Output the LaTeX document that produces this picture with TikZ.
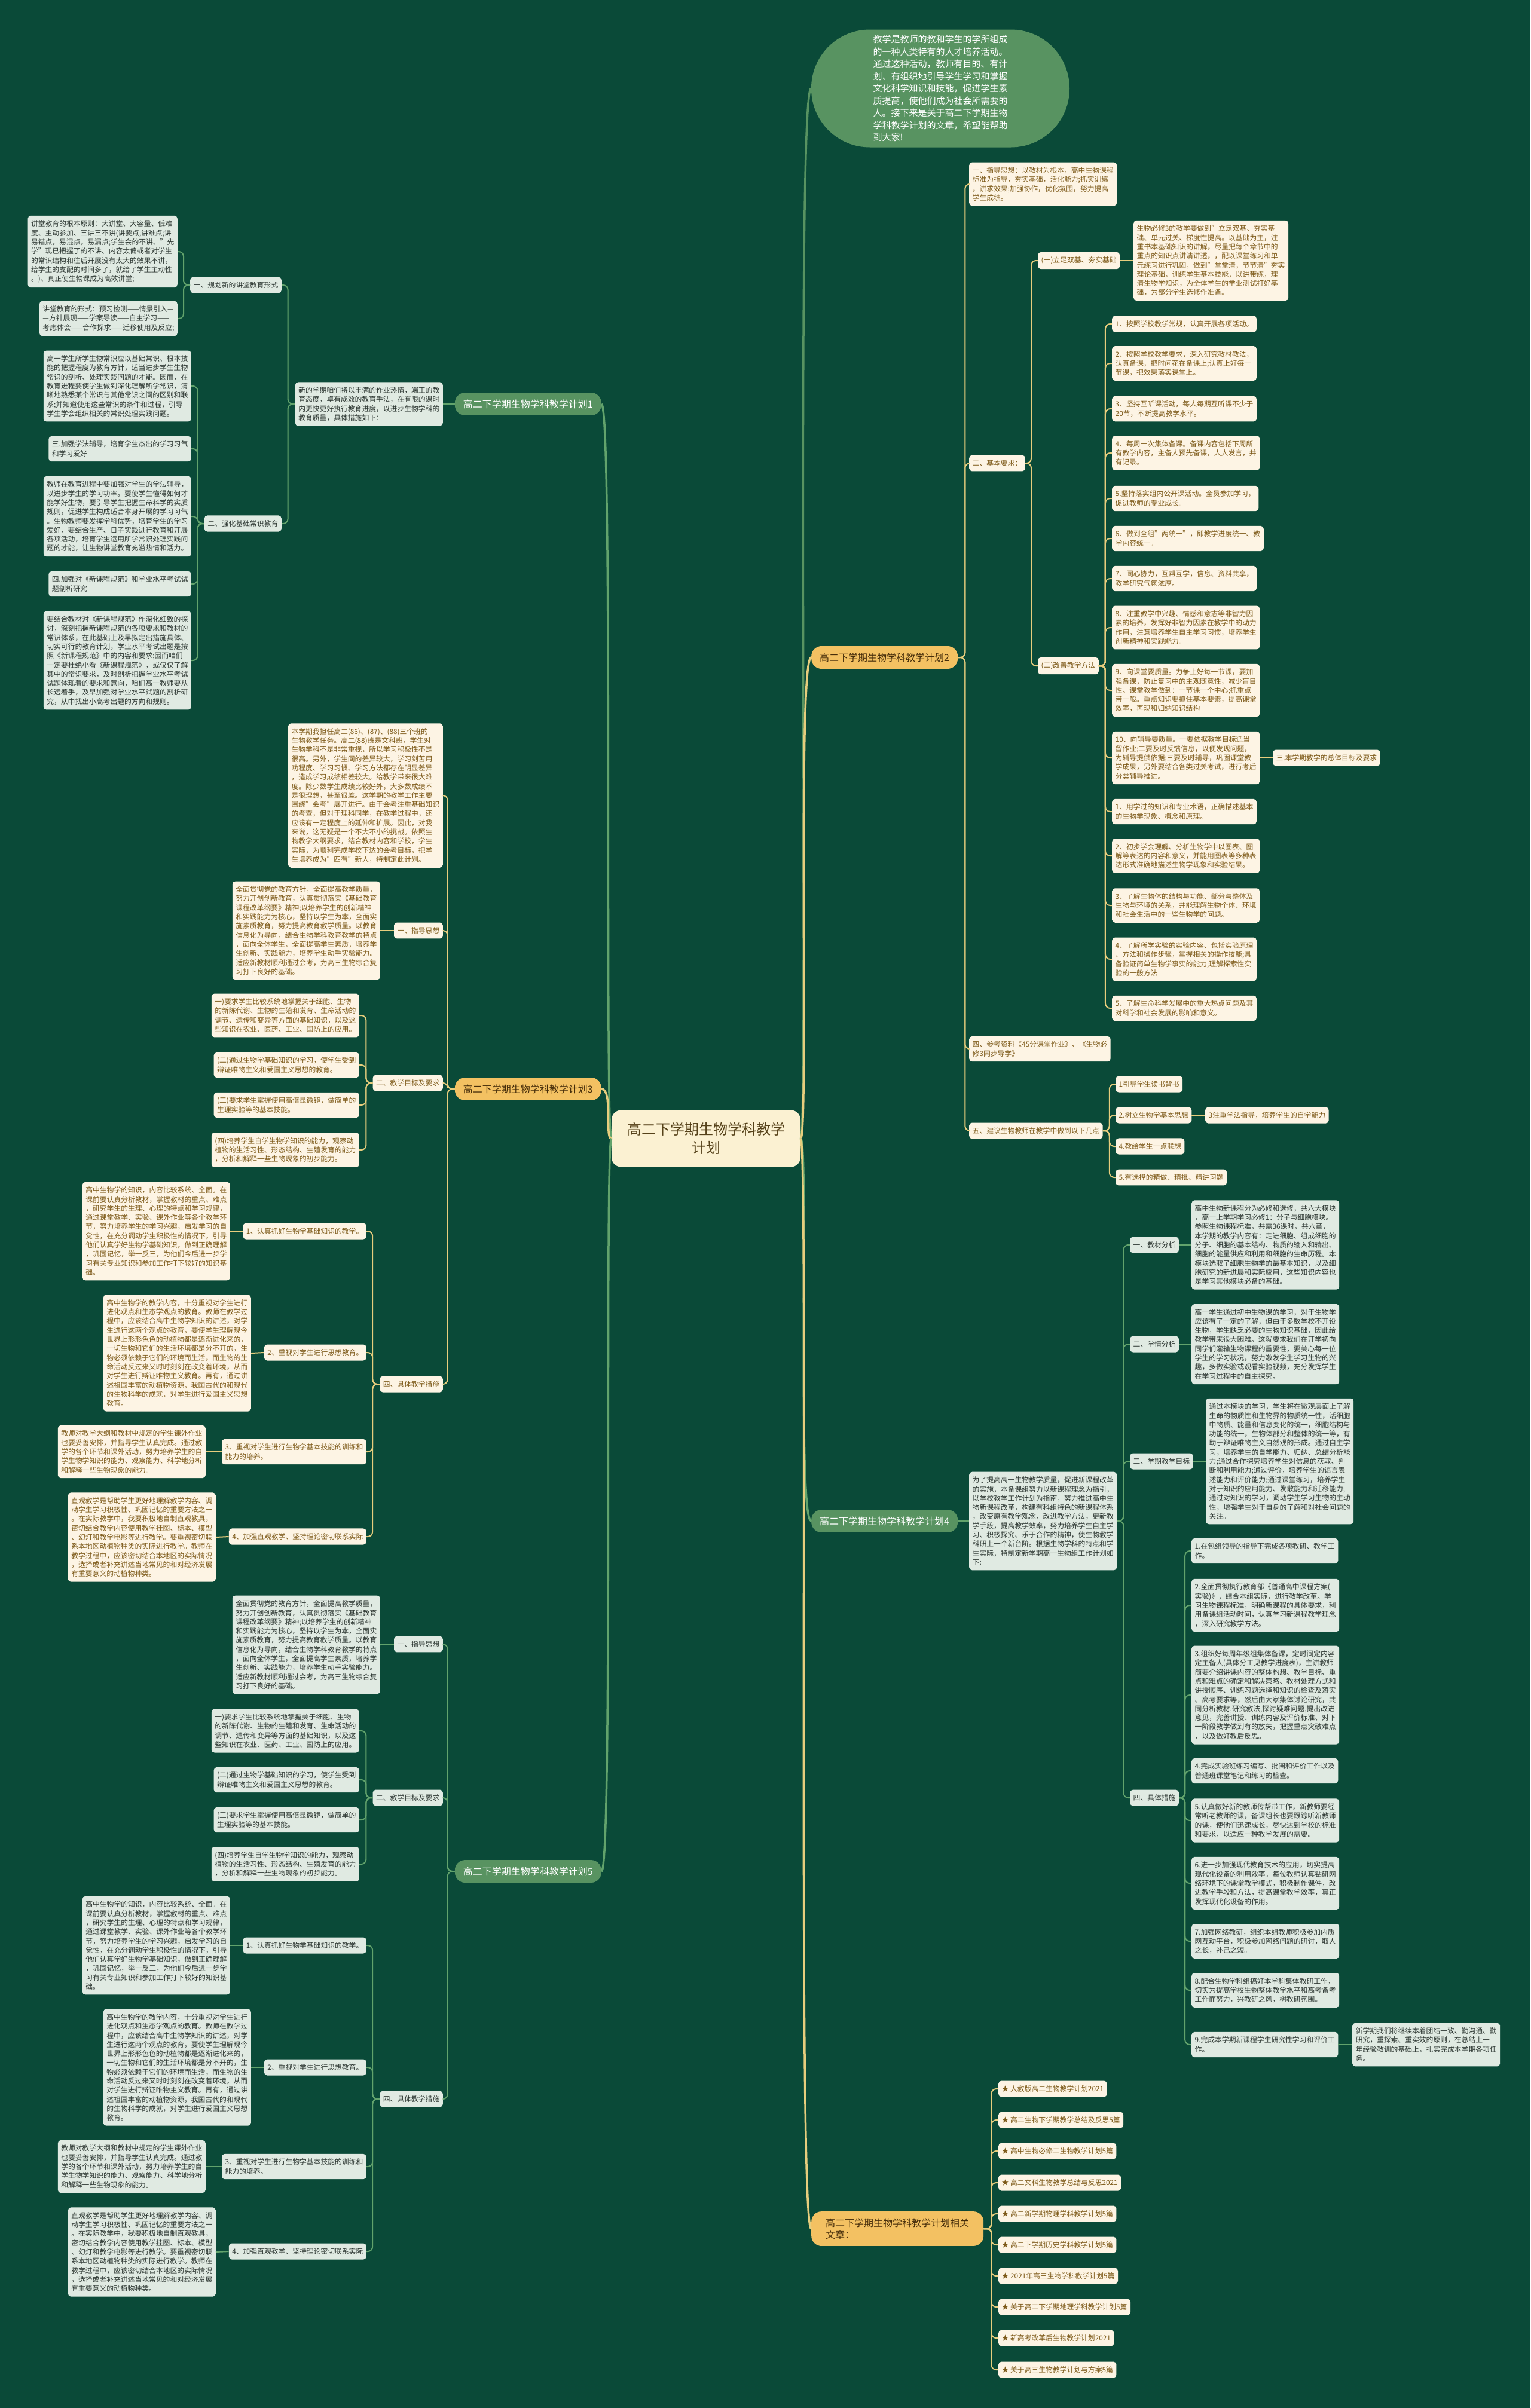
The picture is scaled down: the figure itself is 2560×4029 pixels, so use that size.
\documentclass[tikz,border=0pt]{standalone}
\usepackage{fontspec}
\setmainfont{Noto Sans CJK SC}
\usepackage{tikz}
\usetikzlibrary{positioning}
\definecolor{bgdark}{RGB}{10,74,56}
\definecolor{goldline}{RGB}{231,205,125}
\definecolor{goldfill}{RGB}{243,193,98}
\definecolor{stemink}{RGB}{70,45,10}
\definecolor{cream}{RGB}{253,244,228}
\definecolor{creamink}{RGB}{125,90,25}
\definecolor{leaf}{RGB}{88,147,97}
\definecolor{leafline}{RGB}{98,163,108}
\definecolor{mist}{RGB}{224,234,226}
\definecolor{mistink}{RGB}{45,55,50}
\definecolor{corefill}{RGB}{251,241,210}
\definecolor{coreink}{RGB}{85,65,25}
\newcommand{\leaffont}{\fontsize{11.8}{15.3}\selectfont}
\newcommand{\stemfont}{\fontsize{16}{20}\selectfont}
\newcommand{\bubblefont}{\fontsize{15}{20.5}\selectfont}
\newcommand{\corefont}{\fontsize{24}{31}\selectfont}
\newcommand{\txtguide}{全面贯彻党的教育方针，全面提高教学质量，\\努力开创创新教育，认真贯彻落实《基础教育\\课程改革纲要》精神;以培养学生的创新精神\\和实践能力为核心，坚持以学生为本，全面实\\施素质教育，努力提高教育教学质量。以教育\\信息化为导向，结合生物学科教育教学的特点\\，面向全体学生，全面提高学生素质，培养学\\生创新、实践能力，培养学生动手实验能力。\\适应新教材顺利通过会考，为高三生物综合复\\习打下良好的基础。}
\newcommand{\txtaimA}{一)要求学生比较系统地掌握关于细胞、生物\\的新陈代谢、生物的生殖和发育、生命活动的\\调节、遗传和变异等方面的基础知识，以及这\\些知识在农业、医药、工业、国防上的应用。}
\newcommand{\txtaimB}{(二)通过生物学基础知识的学习，使学生受到\\辩证唯物主义和爱国主义思想的教育。}
\newcommand{\txtaimC}{(三)要求学生掌握使用高倍显微镜，做简单的\\生理实验等的基本技能。}
\newcommand{\txtaimD}{(四)培养学生自学生物学知识的能力，观察动\\植物的生活习性、形态结构、生殖发育的能力\\，分析和解释一些生物现象的初步能力。}
\newcommand{\txtstepA}{高中生物学的知识，内容比较系统、全面。在\\课前要认真分析教材，掌握教材的重点、难点\\，研究学生的生理、心理的特点和学习规律，\\通过课堂教学、实验、课外作业等各个教学环\\节，努力培养学生的学习兴趣，启发学习的自\\觉性，在充分调动学生积极性的情况下，引导\\他们认真学好生物学基础知识，做到正确理解\\，巩固记忆，举一反三，为他们今后进一步学\\习有关专业知识和参加工作打下较好的知识基\\础。}
\newcommand{\txtstepB}{高中生物学的教学内容，十分重视对学生进行\\进化观点和生态学观点的教育。教师在教学过\\程中，应该结合高中生物学知识的讲述，对学\\生进行这两个观点的教育，要使学生理解现今\\世界上形形色色的动植物都是逐渐进化来的，\\一切生物和它们的生活环境都是分不开的，生\\物必须依赖于它们的环境而生活，而生物的生\\命活动反过来又时时刻刻在改变着环境，从而\\对学生进行辩证唯物主义教育。再有，通过讲\\述祖国丰富的动植物资源，我国古代的和现代\\的生物科学的成就，对学生进行爱国主义思想\\教育。}
\newcommand{\txtstepC}{教师对教学大纲和教材中规定的学生课外作业\\也要妥善安排，并指导学生认真完成。通过教\\学的各个环节和课外活动，努力培养学生的自\\学生物学知识的能力、观察能力、科学地分析\\和解释一些生物现象的能力。}
\newcommand{\txtstepD}{直观教学是帮助学生更好地理解教学内容、调\\动学生学习积极性、巩固记忆的重要方法之一\\。在实际教学中，我要积极地自制直观教具，\\密切结合教学内容使用教学挂图、标本、模型\\、幻灯和教学电影等进行教学。要重视密切联\\系本地区动植物种类的实际进行教学。教师在\\教学过程中，应该密切结合本地区的实际情况\\，选择或者补充讲述当地常见的和对经济发展\\有重要意义的动植物种类。}

\begin{document}
\begin{tikzpicture}[
    x=1pt, y=-1pt,
    core/.style={fill=corefill, text=coreink, rounded corners=16pt, minimum width=316pt, minimum height=95pt, align=center, font=\corefont},
    bubble/.style={fill=leaf, text=white, rounded corners=98pt, minimum width=432pt, minimum height=197pt, align=left, font=\bubblefont},
    ystem/.style={fill=goldfill, text=stemink, rounded corners=17pt, inner xsep=14pt, inner ysep=11.5pt, align=left, font=\stemfont},
    gstem/.style={fill=leaf, text=white, rounded corners=17pt, inner xsep=14pt, inner ysep=11.5pt, align=left, font=\stemfont},
    yleaf/.style={fill=cream, text=creamink, rounded corners=5pt, inner xsep=5.5pt, inner ysep=8pt, align=left, font=\leaffont},
    gleaf/.style={fill=mist, text=mistink, rounded corners=5pt, inner xsep=5.5pt, inner ysep=8pt, align=left, font=\leaffont},
    ytrunk/.style={draw=goldline, line width=3.5pt},
    gtrunk/.style={draw=leafline, line width=3.5pt},
    ylink/.style={draw=goldline, line width=2pt, rounded corners=8pt},
    glink/.style={draw=leafline, line width=2pt, rounded corners=8pt}
]
\fill[bgdark] (0,0) rectangle (2560,4029);
\useasboundingbox (0,0) rectangle (2560,4029);

\node[core] (core) at (1181,1905) {高二下学期生物学科教学\\计划};
\node[bubble] (intro) at (1573,148) {教学是教师的教和学生的学所组成\\的一种人类特有的人才培养活动。\\通过这种活动，教师有目的、有计\\划、有组织地引导学生学习和掌握\\文化科学知识和技能，促进学生素\\质提高，使他们成为社会所需要的\\人。接下来是关于高二下学期生物\\学科教学计划的文章，希望能帮助\\到大家!};

% right: plan 2
\node[ystem, anchor=west] (r2) at (1357,1100) {高二下学期生物学科教学计划2};
\node[yleaf, anchor=west] (r2a) at (1621,308) {一、指导思想：以教材为根本，高中生物课程\\标准为指导，夯实基础，活化能力;抓实训练\\，讲求效果;加强协作，优化氛围，努力提高\\学生成绩。};
\node[yleaf, anchor=west] (r2b) at (1621,775) {二、基本要求：};
\node[yleaf, anchor=west] (r2b1) at (1736,436) {(一)立足双基、夯实基础};
\node[yleaf, anchor=west] (r2b1t) at (1896,436) {生物必修3的教学要做到"立足双基、夯实基\\础、单元过关、梯度性提高。以基础为主，注\\重书本基础知识的讲解，尽量把每个章节中的\\重点的知识点讲清讲透，，配以课堂练习和单\\元练习进行巩固，做到"堂堂清，节节清"夯实\\理论基础，训练学生基本技能，以讲带练，理\\清生物学知识，为全体学生的学业测试打好基\\础，为部分学生选修作准备。};
\node[yleaf, anchor=west] (r2b2) at (1736,1114) {(二)改善教学方法};
\node[yleaf, anchor=west] (r2m1) at (1860,542) {1、按照学校教学常规，认真开展各项活动。};
\node[yleaf, anchor=west] (r2m2) at (1860,608) {2、按照学校教学要求，深入研究教材教法，\\认真备课，把时间花在备课上;认真上好每一\\节课，把效果落实课堂上。};
\node[yleaf, anchor=west] (r2m3) at (1860,684) {3、坚持互听课活动，每人每期互听课不少于\\20节，不断提高教学水平。};
\node[yleaf, anchor=west] (r2m4) at (1860,758) {4、每周一次集体备课。备课内容包括下周所\\有教学内容，主备人预先备课，人人发言，并\\有记录。};
\node[yleaf, anchor=west] (r2m5) at (1860,834) {5.坚持落实组内公开课活动。全员参加学习，\\促进教师的专业成长。};
\node[yleaf, anchor=west] (r2m6) at (1860,901) {6、做到全组"两统一"，即教学进度统一、教\\学内容统一。};
\node[yleaf, anchor=west] (r2m7) at (1860,968) {7、同心协力，互帮互学，信息、资料共享，\\教学研究气氛浓厚。};
\node[yleaf, anchor=west] (r2m8) at (1860,1050) {8、注重教学中兴趣、情感和意志等非智力因\\素的培养，发挥好非智力因素在教学中的动力\\作用，注意培养学生自主学习习惯，培养学生\\创新精神和实践能力。};
\node[yleaf, anchor=west] (r2m9) at (1860,1155) {9、向课堂要质量。力争上好每一节课，要加\\强备课，防止复习中的主观随意性，减少盲目\\性。课堂教学做到：一节课一个中心;抓重点\\带一般。重点知识要抓住基本要素，提高课堂\\效率，再现和归纳知识结构};
\node[yleaf, anchor=west] (r2m10) at (1860,1268) {10、向辅导要质量。一要依据教学目标适当\\留作业;二要及时反馈信息，以便发现问题，\\为辅导提供依据;三要及时辅导，巩固课堂教\\学成果，另外要结合各类过关考试，进行考后\\分类辅导推进。};
\node[yleaf, anchor=west] (r2goal) at (2129,1268) {三.本学期教学的总体目标及要求};
\node[yleaf, anchor=west] (r2m11) at (1860,1358) {1、用学过的知识和专业术语，正确描述基本\\的生物学现象、概念和原理。};
\node[yleaf, anchor=west] (r2m12) at (1860,1432) {2、初步学会理解、分析生物学中以图表、图\\解等表达的内容和意义，并能用图表等多种表\\达形式准确地描述生物学现象和实验结果。};
\node[yleaf, anchor=west] (r2m13) at (1860,1515) {3、了解生物体的结构与功能、部分与整体及\\生物与环境的关系，并能理解生物个体、环境\\和社会生活中的一些生物学的问题。};
\node[yleaf, anchor=west] (r2m14) at (1860,1605) {4、了解所学实验的实验内容、包括实验原理\\、方法和操作步骤，掌握相关的操作技能;具\\备验证简单生物学事实的能力;理解探索性实\\验的一般方法};
\node[yleaf, anchor=west] (r2m15) at (1860,1687) {5、了解生命科学发展中的重大热点问题及其\\对科学和社会发展的影响和意义。};
\node[yleaf, anchor=west] (r2c) at (1621,1755) {四、参考资料《45分课堂作业》、《生物必\\修3同步导学》};
\node[yleaf, anchor=west] (r2d) at (1621,1892) {五、建议生物教师在教学中做到以下几点};
\node[yleaf, anchor=west] (r2d1) at (1866,1814) {1引导学生读书背书};
\node[yleaf, anchor=west] (r2d2) at (1866,1866) {2.树立生物学基本思想};
\node[yleaf, anchor=west] (r2d3) at (2016,1866) {3注重学法指导，培养学生的自学能力};
\node[yleaf, anchor=west] (r2d4) at (1866,1918) {4.教给学生一点联想};
\node[yleaf, anchor=west] (r2d5) at (1866,1970) {5.有选择的精做、精批、精讲习题};

% right: plan 4
\node[gstem, anchor=west] (r4) at (1357,2545) {高二下学期生物学科教学计划4};
\node[gleaf, anchor=west] (r4t) at (1621,2545) {为了提高高一生物教学质量，促进新课程改革\\的实施，本备课组努力以新课程理念为指引，\\以学校教学工作计划为指南，努力推进高中生\\物新课程改革，构建有科组特色的新课程体系\\，改变原有教学观念，改进教学方法，更新教\\学手段，提高教学效率，努力培养学生自主学\\习、积极探究、乐于合作的精神，使生物教学\\科研上一个新台阶。根据生物学科的特点和学\\生实际，特制定新学期高一生物组工作计划如\\下:};
\node[gleaf, anchor=west] (r4a) at (1890,2083) {一、教材分析};
\node[gleaf, anchor=west] (r4at) at (1993,2083) {高中生物新课程分为必修和选修，共六大模块\\，高一上学期学习必修1：分子与细胞模块。\\参照生物课程标准，共需36课时，共六章，\\本学期的教学内容有：走进细胞、组成细胞的\\分子、细胞的基本结构、物质的输入和输出、\\细胞的能量供应和利用和细胞的生命历程。本\\模块选取了细胞生物学的最基本知识，以及细\\胞研究的新进展和实际应用，这些知识内容也\\是学习其他模块必备的基础。};
\node[gleaf, anchor=west] (r4b) at (1890,2249) {二、学情分析};
\node[gleaf, anchor=west] (r4bt) at (1993,2249) {高一学生通过初中生物课的学习，对于生物学\\应该有了一定的了解，但由于多数学校不开设\\生物，学生缺乏必要的生物知识基础，因此给\\教学带来很大困难。这就要求我们在开学初向\\同学们灌输生物课程的重要性，要关心每一位\\学生的学习状况，努力激发学生学习生物的兴\\趣，多做实验或观看实验视频，充分发挥学生\\在学习过程中的自主探究。};
\node[gleaf, anchor=west] (r4c) at (1890,2445) {三、学期教学目标};
\node[gleaf, anchor=west] (r4ct) at (2017,2445) {通过本模块的学习，学生将在微观层面上了解\\生命的物质性和生物界的物质统一性，活细胞\\中物质、能量和信息变化的统一，细胞结构与\\功能的统一，生物体部分和整体的统一等，有\\助于辩证唯物主义自然观的形成。通过自主学\\习，培养学生的自学能力、归纳、总结分析能\\力;通过合作探究培养学生对信息的获取、判\\断和利用能力;通过评价，培养学生的语言表\\述能力和评价能力;通过课堂练习，培养学生\\对于知识的应用能力、发散能力和迁移能力;\\通过对知识的学习，调动学生学习生物的主动\\性，增强学生对于自身的了解和对社会问题的\\关注。};
\node[gleaf, anchor=west] (r4d) at (1890,3008) {四、具体措施};
\node[gleaf, anchor=west] (r4m1) at (1993,2595) {1.在包组领导的指导下完成各项教研、教学工\\作。};
\node[gleaf, anchor=west] (r4m2) at (1993,2686) {2.全面贯彻执行教育部《普通高中课程方案(\\实验)》，结合本组实际，进行教学改革。学\\习生物课程标准，明确新课程的具体要求，利\\用备课组活动时间，认真学习新课程教学理念\\，深入研究教学方法。};
\node[gleaf, anchor=west] (r4m3) at (1993,2836) {3.组织好每周年级组集体备课，定时间定内容\\定主备人(具体分工见教学进度表)，主讲教师\\简要介绍讲课内容的整体构想、教学目标、重\\点和难点的确定和解决策略、教材处理方式和\\讲授顺序、训练习题选择和知识的检查及落实\\、高考要求等，然后由大家集体讨论研究，共\\同分析教材,研究教法,探讨疑难问题,提出改进\\意见，完善讲授、训练内容及评价标准、对下\\一阶段教学做到有的放矢，把握重点突破难点\\，以及做好教后反思。};
\node[gleaf, anchor=west] (r4m4) at (1993,2963) {4.完成实验班练习编写、批阅和评价工作以及\\普通班课堂笔记和练习的检查。};
\node[gleaf, anchor=west] (r4m5) at (1993,3046) {5.认真做好新的教师传帮带工作，新教师要经\\常听老教师的课，备课组长也要跟踪听新教师\\的课，使他们迅速成长，尽快达到学校的标准\\和要求，以适应一种教学发展的需要。};
\node[gleaf, anchor=west] (r4m6) at (1993,3151) {6.进一步加强现代教育技术的应用，切实提高\\现代化设备的利用效率。每位教师认真钻研网\\络环境下的课堂教学模式，积极制作课件，改\\进教学手段和方法，提高课堂教学效率，真正\\发挥现代化设备的作用。};
\node[gleaf, anchor=west] (r4m7) at (1993,3248) {7.加强网络教研，组织本组教师积极参加内质\\网互动平台，积极参加网络问题的研讨，取人\\之长，补己之短。};
\node[gleaf, anchor=west] (r4m8) at (1993,3330) {8.配合生物学科组搞好本学科集体教研工作，\\切实为提高学校生物整体教学水平和高考备考\\工作而努力，兴教研之风，树教研氛围。};
\node[gleaf, anchor=west] (r4m9) at (1993,3421) {9.完成本学期新课程学生研究性学习和评价工\\作。};
\node[gleaf, anchor=west] (r4note) at (2262,3421) {新学期我们将继续本着团结一致、勤沟通、勤\\研究，重探索、重实效的原则，在总结上一\\年经验教训的基础上，扎实完成本学期各项任\\务。};

% right: related articles
\node[ystem, anchor=west, minimum width=288pt] (rel) at (1357,3729) {高二下学期生物学科教学计划相关\\文章：};
\node[yleaf, anchor=west] (rel1) at (1670,3495) {★ 人教版高二生物教学计划2021};
\node[yleaf, anchor=west] (rel2) at (1670,3547) {★ 高二生物下学期教学总结及反思5篇};
\node[yleaf, anchor=west] (rel3) at (1670,3599) {★ 高中生物必修二生物教学计划5篇};
\node[yleaf, anchor=west] (rel4) at (1670,3652) {★ 高二文科生物教学总结与反思2021};
\node[yleaf, anchor=west] (rel5) at (1670,3704) {★ 高二新学期物理学科教学计划5篇};
\node[yleaf, anchor=west] (rel6) at (1670,3756) {★ 高二下学期历史学科教学计划5篇};
\node[yleaf, anchor=west] (rel7) at (1670,3808) {★ 2021年高三生物学科教学计划5篇};
\node[yleaf, anchor=west] (rel8) at (1670,3860) {★ 关于高二下学期地理学科教学计划5篇};
\node[yleaf, anchor=west] (rel9) at (1670,3912) {★ 新高考改革后生物教学计划2021};
\node[yleaf, anchor=west] (rel10) at (1670,3965) {★ 关于高三生物教学计划与方案5篇};

% left: plan 1
\node[gstem, anchor=east] (l1) at (1006,676) {高二下学期生物学科教学计划1};
\node[gleaf, anchor=east] (l1t) at (741,676) {新的学期咱们将以丰满的作业热情，端正的教\\育态度，卓有成效的教育手法，在有限的课时\\内更快更好执行教育进度，以进步生物学科的\\教育质量，具体措施如下：};
\node[gleaf, anchor=east] (l1a) at (471,477) {一、规划新的讲堂教育形式};
\node[gleaf, anchor=east] (l1a1) at (297,421) {讲堂教育的根本原则：大讲堂、大容量、低难\\度、主动参加、三讲三不讲(讲要点;讲难点;讲\\易错点，易混点，易漏点;学生会的不讲、"先\\学"现已把握了的不讲、内容太偏或者对学生\\的常识结构和往后开展没有太大的效果不讲，\\给学生的支配的时间多了，就给了学生主动性\\。)、真正使生物课成为高效讲堂;};
\node[gleaf, anchor=east] (l1a2) at (297,533) {讲堂教育的形式：预习检测——情景引入—\\—方针展现——学案导读——自主学习——\\考虑体会——合作探求——迁移使用及反应;};
\node[gleaf, anchor=east] (l1b) at (471,876) {二、强化基础常识教育};
\node[gleaf, anchor=east] (l1b1) at (320,646) {高一学生所学生物常识应以基础常识、根本技\\能的把握程度为教育方针，适当进步学生生物\\常识的剖析、处理实践问题的才能。因而，在\\教育进程要使学生做到深化理解所学常识，清\\晰地熟悉某个常识与其他常识之间的区别和联\\系;并知道使用这些常识的条件和过程，引导\\学生学会组织相关的常识处理实践问题。};
\node[gleaf, anchor=east] (l1b2) at (320,751) {三.加强学法辅导，培育学生杰出的学习习气\\和学习爱好};
\node[gleaf, anchor=east] (l1b3) at (320,864) {教师在教育进程中要加强对学生的学法辅导，\\以进步学生的学习功率。要使学生懂得如何才\\能学好生物，要引导学生把握生命科学的实质\\规则，促进学生构成适合本身开展的学习习气\\。生物教师要发挥学科优势，培育学生的学习\\爱好，要结合生产、日子实践进行教育和开展\\各项活动，培育学生运用所学常识处理实践问\\题的才能，让生物讲堂教育充溢热情和活力。};
\node[gleaf, anchor=east] (l1b4) at (320,977) {四.加强对《新课程规范》和学业水平考试试\\题剖析研究};
\node[gleaf, anchor=east] (l1b5) at (320,1105) {要结合教材对《新课程规范》作深化细致的探\\讨，深刻把握新课程规范的各项要求和教材的\\常识体系，在此基础上及早拟定出措施具体、\\切实可行的教育计划，学业水平考试出题是按\\照《新课程规范》中的内容和要求;因而咱们\\一定要杜绝小看《新课程规范》，或仅仅了解\\其中的常识要求，及时剖析把握学业水平考试\\试题体现着的要求和意向，咱们高一教师要从\\长远着手，及早加强对学业水平试题的剖析研\\究，从中找出小高考出题的方向和规则。};

% left: plan 3
\node[ystem, anchor=east] (l3) at (1006,1822) {高二下学期生物学科教学计划3};
\node[yleaf, anchor=east] (l3t) at (741,1331) {本学期我担任高二(86)、(87)、(88)三个班的\\生物教学任务。高二(88)班是文科班，学生对\\生物学科不是非常重视，所以学习积极性不是\\很高。另外，学生间的差异较大，学习刻苦用\\功程度、学习习惯、学习方法都存在明显差异\\，造成学习成绩相差较大。给教学带来很大难\\度。除少数学生成绩比较好外，大多数成绩不\\是很理想，甚至很差。这学期的教学工作主要\\围绕"会考"展开进行。由于会考注重基础知识\\的考查，但对于理科同学，在教学过程中，还\\应该有一定程度上的延伸和扩展。因此，对我\\来说，这无疑是一个不大不小的挑战。依照生\\物教学大纲要求，结合教材内容和学校，学生\\实际，为顺利完成学校下达的会考目标，把学\\生培养成为"四有"新人，特制定此计划。};
\node[yleaf, anchor=east] (l3a) at (741,1557) {一、指导思想};
\node[yleaf, anchor=east] (l3at) at (636,1557) {\txtguide};
\node[yleaf, anchor=east] (l3b) at (741,1812) {二、教学目标及要求};
\node[yleaf, anchor=east] (l3b1) at (601,1699) {\txtaimA};
\node[yleaf, anchor=east] (l3b2) at (601,1782) {\txtaimB};
\node[yleaf, anchor=east] (l3b3) at (601,1849) {\txtaimC};
\node[yleaf, anchor=east] (l3b4) at (601,1924) {\txtaimD};
\node[yleaf, anchor=east] (l3c) at (741,2316) {四、具体教学措施};
\node[yleaf, anchor=east] (l3c1) at (613,2060) {1、认真抓好生物学基础知识的教学。};
\node[yleaf, anchor=east] (l3c1t) at (385,2060) {\txtstepA};
\node[yleaf, anchor=east] (l3c2) at (613,2263) {2、重视对学生进行思想教育。};
\node[yleaf, anchor=east] (l3c2t) at (420,2264) {\txtstepB};
\node[yleaf, anchor=east] (l3c3) at (613,2429) {3、重视对学生进行生物学基本技能的训练和\\能力的培养。};
\node[yleaf, anchor=east] (l3c3t) at (344,2429) {\txtstepC};
\node[yleaf, anchor=east] (l3c4) at (613,2571) {4、加强直观教学、坚持理论密切联系实际};
\node[yleaf, anchor=east] (l3c4t) at (361,2572) {\txtstepD};

% left: plan 5
\node[gstem, anchor=east] (l5) at (1006,3131) {高二下学期生物学科教学计划5};
\node[gleaf, anchor=east] (l5a) at (741,2751) {一、指导思想};
\node[gleaf, anchor=east] (l5at) at (636,2752) {\txtguide};
\node[gleaf, anchor=east] (l5b) at (741,3008) {二、教学目标及要求};
\node[gleaf, anchor=east] (l5b1) at (601,2896) {\txtaimA};
\node[gleaf, anchor=east] (l5b2) at (601,2978) {\txtaimB};
\node[gleaf, anchor=east] (l5b3) at (601,3045) {\txtaimC};
\node[gleaf, anchor=east] (l5b4) at (601,3119) {\txtaimD};
\node[gleaf, anchor=east] (l5c) at (741,3512) {四、具体教学措施};
\node[gleaf, anchor=east] (l5c1) at (613,3255) {1、认真抓好生物学基础知识的教学。};
\node[gleaf, anchor=east] (l5c1t) at (385,3255) {\txtstepA};
\node[gleaf, anchor=east] (l5c2) at (613,3459) {2、重视对学生进行思想教育。};
\node[gleaf, anchor=east] (l5c2t) at (420,3459) {\txtstepB};
\node[gleaf, anchor=east] (l5c3) at (613,3625) {3、重视对学生进行生物学基本技能的训练和\\能力的培养。};
\node[gleaf, anchor=east] (l5c3t) at (344,3625) {\txtstepC};
\node[gleaf, anchor=east] (l5c4) at (613,3767) {4、加强直观教学、坚持理论密切联系实际};
\node[gleaf, anchor=east] (l5c4t) at (361,3768) {\txtstepD};

% connectors from the core
\draw[gtrunk, draw=leaf] (core.east) .. controls +(14,0) and +(-26,0) .. (intro.west);
\draw[ytrunk] (core.east) .. controls +(14,0) and +(-24,0) .. (r2.west);
\draw[gtrunk] (core.east) .. controls +(14,0) and +(-24,0) .. (r4.west);
\draw[ytrunk] (core.east) .. controls +(14,0) and +(-24,0) .. (rel.west);
\draw[gtrunk] (core.west) .. controls +(-12,0) and +(20,0) .. (l1.east);
\draw[ytrunk] (core.west) .. controls +(-12,0) and +(20,0) .. (l3.east);
\draw[gtrunk] (core.west) .. controls +(-12,0) and +(20,0) .. (l5.east);

% plan 2 links
\draw[ylink] (r2.east) -- ++(12,0) |- (r2a.west);
\draw[ylink] (r2.east) -- ++(12,0) |- (r2b.west);
\draw[ylink] (r2.east) -- ++(12,0) |- (r2c.west);
\draw[ylink] (r2.east) -- ++(12,0) |- (r2d.west);
\draw[ylink] (r2b.east) -- ++(10,0) |- (r2b1.west);
\draw[ylink] (r2b.east) -- ++(10,0) |- (r2b2.west);
\draw[ylink] (r2b1.east) -- (r2b1t.west);
\draw[ylink] (r2b2.east) -- ++(11,0) |- (r2m1.west);
\draw[ylink] (r2b2.east) -- ++(11,0) |- (r2m2.west);
\draw[ylink] (r2b2.east) -- ++(11,0) |- (r2m3.west);
\draw[ylink] (r2b2.east) -- ++(11,0) |- (r2m4.west);
\draw[ylink] (r2b2.east) -- ++(11,0) |- (r2m5.west);
\draw[ylink] (r2b2.east) -- ++(11,0) |- (r2m6.west);
\draw[ylink] (r2b2.east) -- ++(11,0) |- (r2m7.west);
\draw[ylink] (r2b2.east) -- ++(11,0) |- (r2m8.west);
\draw[ylink] (r2b2.east) -- ++(11,0) |- (r2m9.west);
\draw[ylink] (r2b2.east) -- ++(11,0) |- (r2m10.west);
\draw[ylink] (r2b2.east) -- ++(11,0) |- (r2m11.west);
\draw[ylink] (r2b2.east) -- ++(11,0) |- (r2m12.west);
\draw[ylink] (r2b2.east) -- ++(11,0) |- (r2m13.west);
\draw[ylink] (r2b2.east) -- ++(11,0) |- (r2m14.west);
\draw[ylink] (r2b2.east) -- ++(11,0) |- (r2m15.west);
\draw[ylink] (r2m10.east) -- (r2goal.west);
\draw[ylink] (r2d.east) -- ++(11,0) |- (r2d1.west);
\draw[ylink] (r2d.east) -- ++(11,0) |- (r2d2.west);
\draw[ylink] (r2d.east) -- ++(11,0) |- (r2d4.west);
\draw[ylink] (r2d.east) -- ++(11,0) |- (r2d5.west);
\draw[ylink] (r2d2.east) -- (r2d3.west);

% plan 4 links
\draw[glink] (r4.east) -- (r4t.west);
\draw[glink] (r4t.east) -- ++(11,0) |- (r4a.west);
\draw[glink] (r4t.east) -- ++(11,0) |- (r4b.west);
\draw[glink] (r4t.east) -- ++(11,0) |- (r4c.west);
\draw[glink] (r4t.east) -- ++(11,0) |- (r4d.west);
\draw[glink] (r4a.east) -- (r4at.west);
\draw[glink] (r4b.east) -- (r4bt.west);
\draw[glink] (r4c.east) -- (r4ct.west);
\draw[glink] (r4d.east) -- ++(10,0) |- (r4m1.west);
\draw[glink] (r4d.east) -- ++(10,0) |- (r4m2.west);
\draw[glink] (r4d.east) -- ++(10,0) |- (r4m3.west);
\draw[glink] (r4d.east) -- ++(10,0) |- (r4m4.west);
\draw[glink] (r4d.east) -- ++(10,0) |- (r4m5.west);
\draw[glink] (r4d.east) -- ++(10,0) |- (r4m6.west);
\draw[glink] (r4d.east) -- ++(10,0) |- (r4m7.west);
\draw[glink] (r4d.east) -- ++(10,0) |- (r4m8.west);
\draw[glink] (r4d.east) -- ++(10,0) |- (r4m9.west);
\draw[glink] (r4m9.east) -- (r4note.west);

% related links
\draw[ylink] (rel.east) -- ++(13,0) |- (rel1.west);
\draw[ylink] (rel.east) -- ++(13,0) |- (rel2.west);
\draw[ylink] (rel.east) -- ++(13,0) |- (rel3.west);
\draw[ylink] (rel.east) -- ++(13,0) |- (rel4.west);
\draw[ylink] (rel.east) -- ++(13,0) |- (rel5.west);
\draw[ylink] (rel.east) -- ++(13,0) |- (rel6.west);
\draw[ylink] (rel.east) -- ++(13,0) |- (rel7.west);
\draw[ylink] (rel.east) -- ++(13,0) |- (rel8.west);
\draw[ylink] (rel.east) -- ++(13,0) |- (rel9.west);
\draw[ylink] (rel.east) -- ++(13,0) |- (rel10.west);

% plan 1 links
\draw[glink] (l1.west) -- (l1t.east);
\draw[glink] (l1t.west) -- ++(-12,0) |- (l1a.east);
\draw[glink] (l1t.west) -- ++(-12,0) |- (l1b.east);
\draw[glink] (l1a.west) -- ++(-11,0) |- (l1a1.east);
\draw[glink] (l1a.west) -- ++(-11,0) |- (l1a2.east);
\draw[glink] (l1b.west) -- ++(-11,0) |- (l1b1.east);
\draw[glink] (l1b.west) -- ++(-11,0) |- (l1b2.east);
\draw[glink] (l1b.west) -- ++(-11,0) |- (l1b3.east);
\draw[glink] (l1b.west) -- ++(-11,0) |- (l1b4.east);
\draw[glink] (l1b.west) -- ++(-11,0) |- (l1b5.east);

% plan 3 links
\draw[ylink] (l3.west) -- ++(-12,0) |- (l3t.east);
\draw[ylink] (l3.west) -- ++(-12,0) |- (l3a.east);
\draw[ylink] (l3.west) -- ++(-12,0) |- (l3b.east);
\draw[ylink] (l3.west) -- ++(-12,0) |- (l3c.east);
\draw[ylink] (l3a.west) -- (l3at.east);
\draw[ylink] (l3b.west) -- ++(-11,0) |- (l3b1.east);
\draw[ylink] (l3b.west) -- ++(-11,0) |- (l3b2.east);
\draw[ylink] (l3b.west) -- ++(-11,0) |- (l3b3.east);
\draw[ylink] (l3b.west) -- ++(-11,0) |- (l3b4.east);
\draw[ylink] (l3c.west) -- ++(-12,0) |- (l3c1.east);
\draw[ylink] (l3c.west) -- ++(-12,0) |- (l3c2.east);
\draw[ylink] (l3c.west) -- ++(-12,0) |- (l3c3.east);
\draw[ylink] (l3c.west) -- ++(-12,0) |- (l3c4.east);
\draw[ylink] (l3c1.west) -- (l3c1t.east);
\draw[ylink] (l3c2.west) -- (l3c2t.east);
\draw[ylink] (l3c3.west) -- (l3c3t.east);
\draw[ylink] (l3c4.west) -- (l3c4t.east);

% plan 5 links
\draw[glink] (l5.west) -- ++(-12,0) |- (l5a.east);
\draw[glink] (l5.west) -- ++(-12,0) |- (l5b.east);
\draw[glink] (l5.west) -- ++(-12,0) |- (l5c.east);
\draw[glink] (l5a.west) -- (l5at.east);
\draw[glink] (l5b.west) -- ++(-11,0) |- (l5b1.east);
\draw[glink] (l5b.west) -- ++(-11,0) |- (l5b2.east);
\draw[glink] (l5b.west) -- ++(-11,0) |- (l5b3.east);
\draw[glink] (l5b.west) -- ++(-11,0) |- (l5b4.east);
\draw[glink] (l5c.west) -- ++(-12,0) |- (l5c1.east);
\draw[glink] (l5c.west) -- ++(-12,0) |- (l5c2.east);
\draw[glink] (l5c.west) -- ++(-12,0) |- (l5c3.east);
\draw[glink] (l5c.west) -- ++(-12,0) |- (l5c4.east);
\draw[glink] (l5c1.west) -- (l5c1t.east);
\draw[glink] (l5c2.west) -- (l5c2t.east);
\draw[glink] (l5c3.west) -- (l5c3t.east);
\draw[glink] (l5c4.west) -- (l5c4t.east);
\end{tikzpicture}
\end{document}
